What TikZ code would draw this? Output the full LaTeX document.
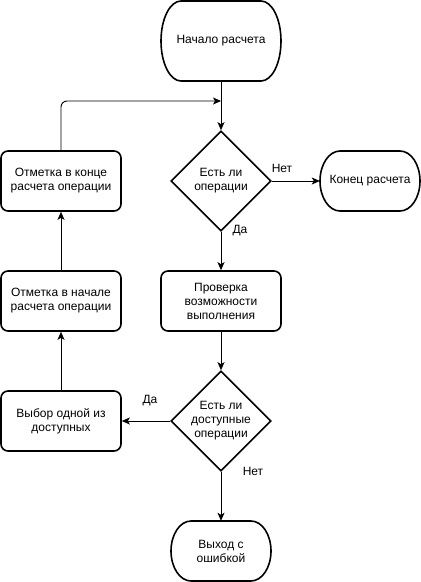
\documentclass[tikz,border=0pt]{standalone}
\usepackage{fontspec}
\setmainfont{Liberation Sans}
\usetikzlibrary{shapes.geometric,arrows.meta}
\begin{document}
\begin{tikzpicture}[x=1pt,y=-1pt,
  font=\fontsize{12}{14}\selectfont,
  base/.style={draw=black, line width=1.6pt, align=center, inner sep=0pt},
  term/.style={align=center, inner sep=0pt},
  termline/.style={draw=black, line width=1.6pt},
  proc/.style={base, rounded corners=7pt, minimum width=120pt, minimum height=60pt},
  dec/.style={base, diamond, minimum width=100pt, minimum height=100pt, aspect=1},
  arr/.style={line width=0.9pt, -{Stealth[length=8pt,width=7pt,inset=2pt]}},
  lbl/.style={inner sep=0pt}]
\useasboundingbox (0,0) rectangle (421,582);
% terminator outlines (elliptical ends)
\draw[termline] (181,1) -- (261,1) .. controls (272.05,1) and (281,18.91) .. (281,41)
  .. controls (281,63.09) and (272.05,81) .. (261,81) -- (181,81)
  .. controls (169.95,81) and (161,63.09) .. (161,41)
  .. controls (161,18.91) and (169.95,1) .. (181,1) -- cycle;
\draw[termline] (340,151) -- (400,151) .. controls (411.05,151) and (420,164.43) .. (420,181)
  .. controls (420,197.57) and (411.05,211) .. (400,211) -- (340,211)
  .. controls (328.95,211) and (320,197.57) .. (320,181)
  .. controls (320,164.43) and (328.95,151) .. (340,151) -- cycle;
\draw[termline] (191,521) -- (251,521) .. controls (262.05,521) and (271,534.43) .. (271,551)
  .. controls (271,567.57) and (262.05,581) .. (251,581) -- (191,581)
  .. controls (179.95,581) and (171,567.57) .. (171,551)
  .. controls (171,534.43) and (179.95,521) .. (191,521) -- cycle;
\node[term, minimum width=120pt, minimum height=80pt] (start) at (221,41) {Начало расчета};
\node[dec] (d1) at (221,181) {Есть ли\\операции};
\node[term, minimum width=100pt, minimum height=60pt] (end) at (370,181) {Конец расчета};
\node[proc] (check) at (221,301) {Проверка\\возможности\\выполнения};
\node[dec] (d2) at (221,421) {Есть ли\\доступные\\операции};
\node[term, minimum width=100pt, minimum height=60pt] (err) at (221,551) {Выход с\\ошибкой};
\node[proc] (choose) at (61,421) {Выбор одной из\\доступных};
\node[proc] (mk1) at (61,301) {Отметка в начале\\расчета операции};
\node[proc] (mk2) at (61,181) {Отметка в конце\\расчета операции};
\coordinate (j) at (221,101);
\draw[arr] (start) -- (d1);
\draw[arr, rounded corners=6pt] (mk2.north) |- (j);
\draw[arr] (d1) -- (end);
\draw[arr] (d1) -- (check);
\draw[arr] (check) -- (d2);
\draw[arr] (d2) -- (choose);
\draw[arr] (d2) -- (err);
\draw[arr] (choose) -- (mk1);
\draw[arr] (mk1) -- (mk2);
\node[lbl] (l1) at (282,168) {Нет};
\node[lbl] (l2) at (240,231) {Да};
\node[lbl] (l3) at (150,401) {Да};
\node[lbl] (l4) at (253,471) {Нет};
\end{tikzpicture}
\end{document}
